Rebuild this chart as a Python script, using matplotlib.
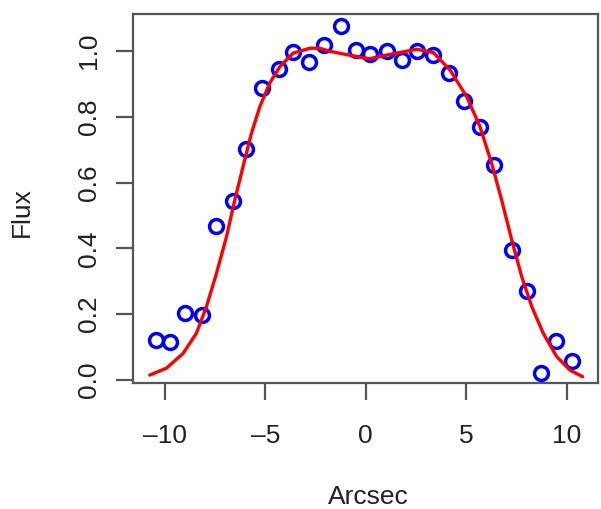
import numpy as np
import matplotlib
matplotlib.use("Agg")
import matplotlib.pyplot as plt

plt.rcParams['font.family'] = ['Liberation Sans', 'DejaVu Sans']

# observed flux points
arcsec = [-10.43, -9.73, -9.0, -8.13, -7.45, -6.6, -5.94, -5.19, -4.31, -3.61,
          -2.82, -2.07, -1.22, -0.49, 0.22, 1.06, 1.79, 2.53, 3.33, 4.13,
          4.88, 5.66, 6.36, 7.30, 8.02, 8.72, 9.48, 10.28]
flux = [0.120, 0.115, 0.204, 0.196, 0.469, 0.544, 0.702, 0.887, 0.946, 0.998,
        0.967, 1.019, 1.076, 1.003, 0.989, 1.000, 0.971, 0.999, 0.986, 0.933,
        0.849, 0.769, 0.654, 0.395, 0.270, 0.022, 0.118, 0.059]

# fitted model curve
fit_x = [-10.75, -9.92, -9.09, -8.43, -7.93, -7.43, -6.93, -6.52, -6.11, -5.69,
         -5.27, -4.78, -4.28, -3.62, -2.78, -2.29, -1.82, -0.99, 0.17, 1.17,
         1.70, 2.53, 3.36, 4.19, 5.02, 5.68, 6.26, 6.76, 7.26, 7.76,
         8.26, 8.83, 9.50, 10.16, 10.79]
fit_y = [0.015, 0.036, 0.081, 0.142, 0.223, 0.324, 0.436, 0.547, 0.648, 0.750,
         0.831, 0.902, 0.952, 0.993, 1.008, 1.008, 0.999, 0.989, 0.976, 0.989,
         0.995, 1.005, 0.995, 0.942, 0.861, 0.770, 0.659, 0.547, 0.426, 0.314,
         0.223, 0.142, 0.071, 0.030, 0.010]

xticks = [-10, -5, 0, 5, 10]
yticks = [0.0, 0.2, 0.4, 0.6, 0.8, 1.0]

fig = plt.figure(figsize=(6.01, 5.09), dpi=100)
ax = fig.add_axes([0.2208, 0.247, 0.9958 - 0.2208, 0.9725 - 0.247])

ax.plot(arcsec, flux, 'o', mfc='none', mec='#0000ff', ms=10, mew=2.5, zorder=3)
ax.plot(fit_x, fit_y, color='#ff0000', lw=2.4, zorder=4,
        solid_joinstyle='round', solid_capstyle='round')

ax.set_xlim(-11.6, 11.58)
ax.set_ylim(-0.01, 1.112)
ax.set_xticks(xticks)
ax.set_xticklabels(['\u201310', '\u20135', '0', '5', '10'])
ax.set_yticks(yticks)
ax.set_yticklabels(['%.1f' % v for v in yticks], rotation=90, va='center')

for s in ax.spines.values():
    s.set_color('#555555')
    s.set_linewidth(1.6)
ax.tick_params(length=12, width=1.6, color='#555555', labelsize=19,
               labelcolor='#222222')
ax.tick_params(axis='x', pad=17)
ax.tick_params(axis='y', pad=11)

fig.text(368 / 601, 1 - 497 / 509, 'Arcsec', fontsize=19, color='#222222',
         ha='center', va='center')
fig.text(22 / 601, 1 - 212 / 509, 'Flux', fontsize=19, color='#222222',
         ha='center', va='center', rotation=90)

fig.savefig('out.png', dpi=100)
